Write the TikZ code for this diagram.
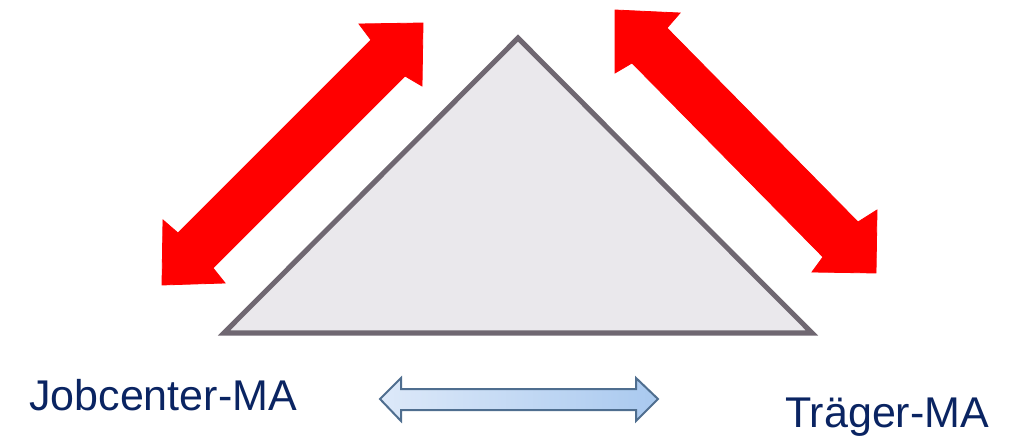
\documentclass[tikz,border=0pt]{standalone}
\usepackage{fontspec}
\setmainfont{Liberation Sans}
\definecolor{trifill}{HTML}{EAE8EC}
\definecolor{tridraw}{HTML}{6F6771}
\definecolor{navy}{HTML}{0A2462}
\definecolor{bluelight}{HTML}{DDE9F9}
\definecolor{bluedark}{HTML}{A9C9EF}
\definecolor{blueline}{HTML}{4F6E8F}
\tikzset{
  tri/.style={fill=trifill, draw=tridraw, line width=5pt, line join=miter},
  redarrow/.style={fill=red, draw=red, line width=0.8pt, line join=miter},
  bluearrow/.style={left color=bluelight, right color=bluedark, draw=blueline, line width=2pt, line join=miter},
  label/.style={inner sep=0pt, anchor=base west, text=navy, font=\fontsize{43}{50}\selectfont}
}
\begin{document}
\begin{tikzpicture}[x=1pt,y=-1pt]
\useasboundingbox (0,0) rectangle (1012,438);
% triangle
\draw[tri] (518,38) -- (812,333) -- (224,333) -- cycle;
% left red double arrow
\draw[redarrow] (423,23) -- (422,86) -- (405,76) -- (213,268) -- (225,283) -- (162,285)
  -- (163,220) -- (178,233) -- (371,40) -- (359,24) -- cycle;
% right red double arrow
\draw[redarrow] (615,10) -- (680,13) -- (667,28) -- (858,222) -- (877,210) -- (876,273)
  -- (812,272) -- (823,257) -- (632,63) -- (615,73) -- cycle;
% blue double arrow
\draw[bluearrow] (380,399) -- (401,378) -- (401,389) -- (636,389) -- (636,378) -- (658,399)
  -- (636,421) -- (636,410) -- (401,410) -- (401,421) -- cycle;
% labels
\node[label] (jc) at (29,410) {Jobcenter-MA};
\node[label] (tr) at (785,427) {Träger-MA};
\end{tikzpicture}
\end{document}
